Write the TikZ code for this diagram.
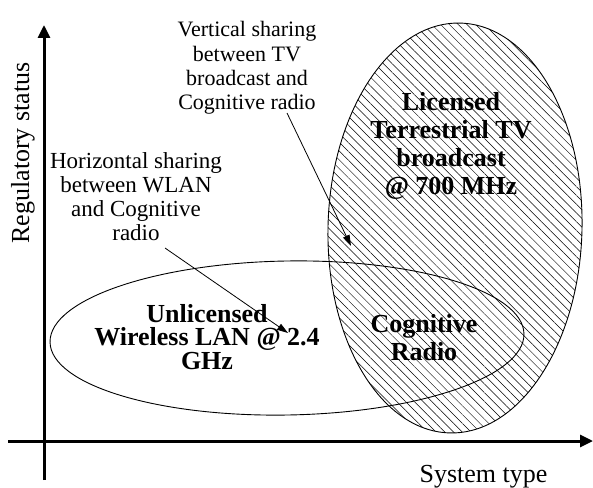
\documentclass[tikz,border=0pt]{standalone}
\usepackage{fontspec}
\setmainfont{Liberation Serif}
\usetikzlibrary{arrows.meta,patterns.meta}
\begin{document}
\begin{tikzpicture}[x=1pt,y=-1pt,
  axis/.style={line width=3pt,-{Triangle[length=13pt,width=12pt]}},
  region/.style={line width=0.9pt},
  hatch/.style={pattern={Lines[angle=-45,distance=6.2pt,line width=0.5pt]}},
  note/.style={align=center,inner sep=0pt},
  pointer/.style={line width=0.8pt,-{Triangle[length=11pt,width=7pt]}},
  title/.style={align=center,inner sep=0pt,font=\bfseries\fontsize{26}{28}\selectfont}]
\useasboundingbox (0,0) rectangle (593,487);
\fill[white] (0,0) rectangle (593,487);

% licensed TV band, hatched
\path[hatch] (455,228) ellipse [x radius=127pt, y radius=205pt, rotate=-1.5];
% unlicensed WLAN band
\draw[region] (287,338) ellipse [x radius=237pt, y radius=77pt, rotate=1];
\draw[region] (455,228) ellipse [x radius=127pt, y radius=205pt, rotate=-1.5];

% region titles
\node[title] (tv) at (451,146) {Licensed\\Terrestrial TV\\broadcast\\@ 700 MHz};
\node[title] (cr) at (424,338) {Cognitive\\Radio};
\node[title,font=\bfseries\fontsize{26}{23.5}\selectfont] (wlan) at (207,337) {Unlicensed\\Wireless LAN @ 2.4\\GHz};

% sharing notes
\node[note,font=\fontsize{22}{24.4}\selectfont] (vert) at (247,68) {Vertical sharing\\between TV\\broadcast and\\Cognitive radio};
\node[note,font=\fontsize{23}{24}\selectfont] (horiz) at (136,197) {Horizontal sharing\\between WLAN\\and Cognitive\\radio};

\coordinate (vtail) at (287,113);
\coordinate (vhead) at (351,246);
\coordinate (htail) at (165,248);
\coordinate (hhead) at (288,333);
\draw[pointer] (vtail) -- (vhead);
\draw[pointer] (htail) -- (hhead);

% axes
\coordinate (origin) at (44,441);
\coordinate (ybot) at (44,480);
\coordinate (ytop) at (44,25);
\coordinate (xleft) at (8,441);
\coordinate (xright) at (593,441);
\draw[axis] (ybot) -- (ytop);
\draw[axis] (xleft) -- (xright);

\node[anchor=base,inner sep=0pt,font=\fontsize{26}{28}\selectfont] (xlab) at (483.5,482) {System type};
\node[anchor=base,rotate=90,inner sep=0pt,font=\fontsize{26}{28}\selectfont] (ylab) at (29,153) {Regulatory status};
\end{tikzpicture}
\end{document}
